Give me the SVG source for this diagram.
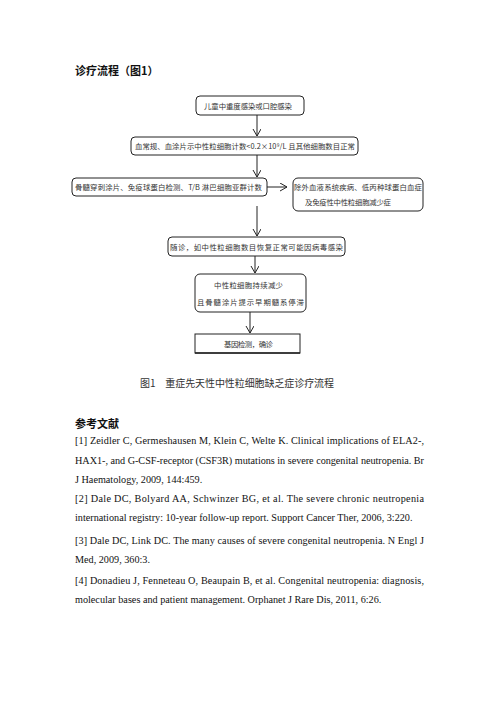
<svg xmlns="http://www.w3.org/2000/svg" width="496" height="702" viewBox="0 0 496 702">
<style>
.bx{fill:#fff;stroke:#222;stroke-width:1}
.bt{font-family:"Noto Sans CJK SC",sans-serif;font-size:7.4px;fill:#333}
.ref{font-family:"Liberation Serif",serif;font-size:10.2px;fill:#111}
.hd{font-family:"Noto Sans CJK SC",sans-serif;font-size:11px;font-weight:bold;fill:#111}
.cap{font-family:"Noto Sans CJK SC",sans-serif;font-size:10px;fill:#333}
.cn{stroke:#222;stroke-width:1;fill:none}
</style>
<defs>
<marker id="ah" markerWidth="10" markerHeight="10" refX="7" refY="4" orient="auto" markerUnits="userSpaceOnUse">
<polyline points="0,0 7,4 0,8" fill="none" stroke="#222" stroke-width="1"/>
</marker>
</defs>
<rect width="496" height="702" fill="#fff"/>
<text class="hd" x="75" y="75">诊疗流程（图1）</text>
<g id="connectors">
<line class="cn" x1="257" y1="115" x2="257" y2="136" marker-end="url(#ah)"/>
<line class="cn" x1="257" y1="155" x2="257" y2="177" marker-end="url(#ah)"/>
<line class="cn" x1="267" y1="187" x2="287" y2="187" marker-end="url(#ah)"/>
<line class="cn" x1="257" y1="206" x2="257" y2="236" marker-end="url(#ah)"/>
<line class="cn" x1="255" y1="256" x2="255" y2="273" marker-end="url(#ah)"/>
<line class="cn" x1="250" y1="312" x2="250" y2="333" marker-end="url(#ah)"/>
</g>
<g id="n1">
<rect class="bx" x="196" y="96" width="108" height="19" rx="4"/>
<text class="bt" x="204" y="108.5" textLength="88">儿童中重度感染或口腔感染</text>
</g>
<g id="n2">
<rect class="bx" x="131" y="137" width="227" height="18" rx="4"/>
<text class="bt" x="135" y="149" textLength="220">血常规、血涂片示中性粒细胞计数&lt;0.2×10⁹/L 且其他细胞数目正常</text>
</g>
<g id="n3">
<rect class="bx" x="72" y="178" width="195" height="18" rx="4"/>
<text class="bt" x="75" y="190" textLength="187">骨髓穿刺涂片、免疫球蛋白检测、T/B 淋巴细胞亚群计数</text>
</g>
<g id="n4">
<rect class="bx" x="293" y="178" width="130" height="33" rx="5"/>
<text class="bt" x="294" y="189.5" textLength="128">除外血液系统疾病、低丙种球蛋白血症</text>
<text class="bt" x="305" y="205" textLength="86">及免疫性中性粒细胞减少症</text>
</g>
<g id="n5">
<rect class="bx" x="168" y="237" width="177" height="19" rx="4"/>
<text class="bt" x="170" y="249.5" textLength="173">随诊，如中性粒细胞数目恢复正常可能因病毒感染</text>
</g>
<g id="n6">
<rect class="bx" x="195" y="274" width="111" height="38" rx="5"/>
<text class="bt" x="214" y="288" textLength="69">中性粒细胞持续减少</text>
<text class="bt" x="197" y="305" textLength="107">且骨髓涂片提示早期髓系停滞</text>
</g>
<g id="n7">
<rect class="bx" x="195" y="334" width="105" height="19"/>
<line x1="195" y1="353" x2="300" y2="353" stroke="#222" stroke-width="1.5"/>
<text class="bt" x="224" y="346.5" textLength="49">基因检测，确诊</text>
</g>
<text class="cap" x="140" y="387" textLength="194">图1　重症先天性中性粒细胞缺乏症诊疗流程</text>
<text class="hd" x="75" y="428">参考文献</text>
<text class="ref" x="75" y="444" textLength="349" lengthAdjust="spacing">[1] Zeidler C, Germeshausen M, Klein C, Welte K. Clinical implications of ELA2-,</text>
<text class="ref" x="75" y="464" textLength="349" lengthAdjust="spacing">HAX1-, and G-CSF-receptor (CSF3R) mutations in severe congenital neutropenia. Br</text>
<text class="ref" x="75" y="483">J Haematology, 2009, 144:459.</text>
<text class="ref" x="75" y="502" textLength="349" lengthAdjust="spacing">[2] Dale DC, Bolyard AA, Schwinzer BG, et al. The severe chronic neutropenia</text>
<text class="ref" x="75" y="521">international registry: 10-year follow-up report. Support Cancer Ther, 2006, 3:220.</text>
<text class="ref" x="75" y="544" textLength="349" lengthAdjust="spacing">[3] Dale DC, Link DC. The many causes of severe congenital neutropenia. N Engl J</text>
<text class="ref" x="75" y="563">Med, 2009, 360:3.</text>
<text class="ref" x="75" y="584" textLength="349" lengthAdjust="spacing">[4] Donadieu J, Fenneteau O, Beaupain B, et al. Congenital neutropenia: diagnosis,</text>
<text class="ref" x="75" y="603">molecular bases and patient management. Orphanet J Rare Dis, 2011, 6:26.</text>
</svg>
